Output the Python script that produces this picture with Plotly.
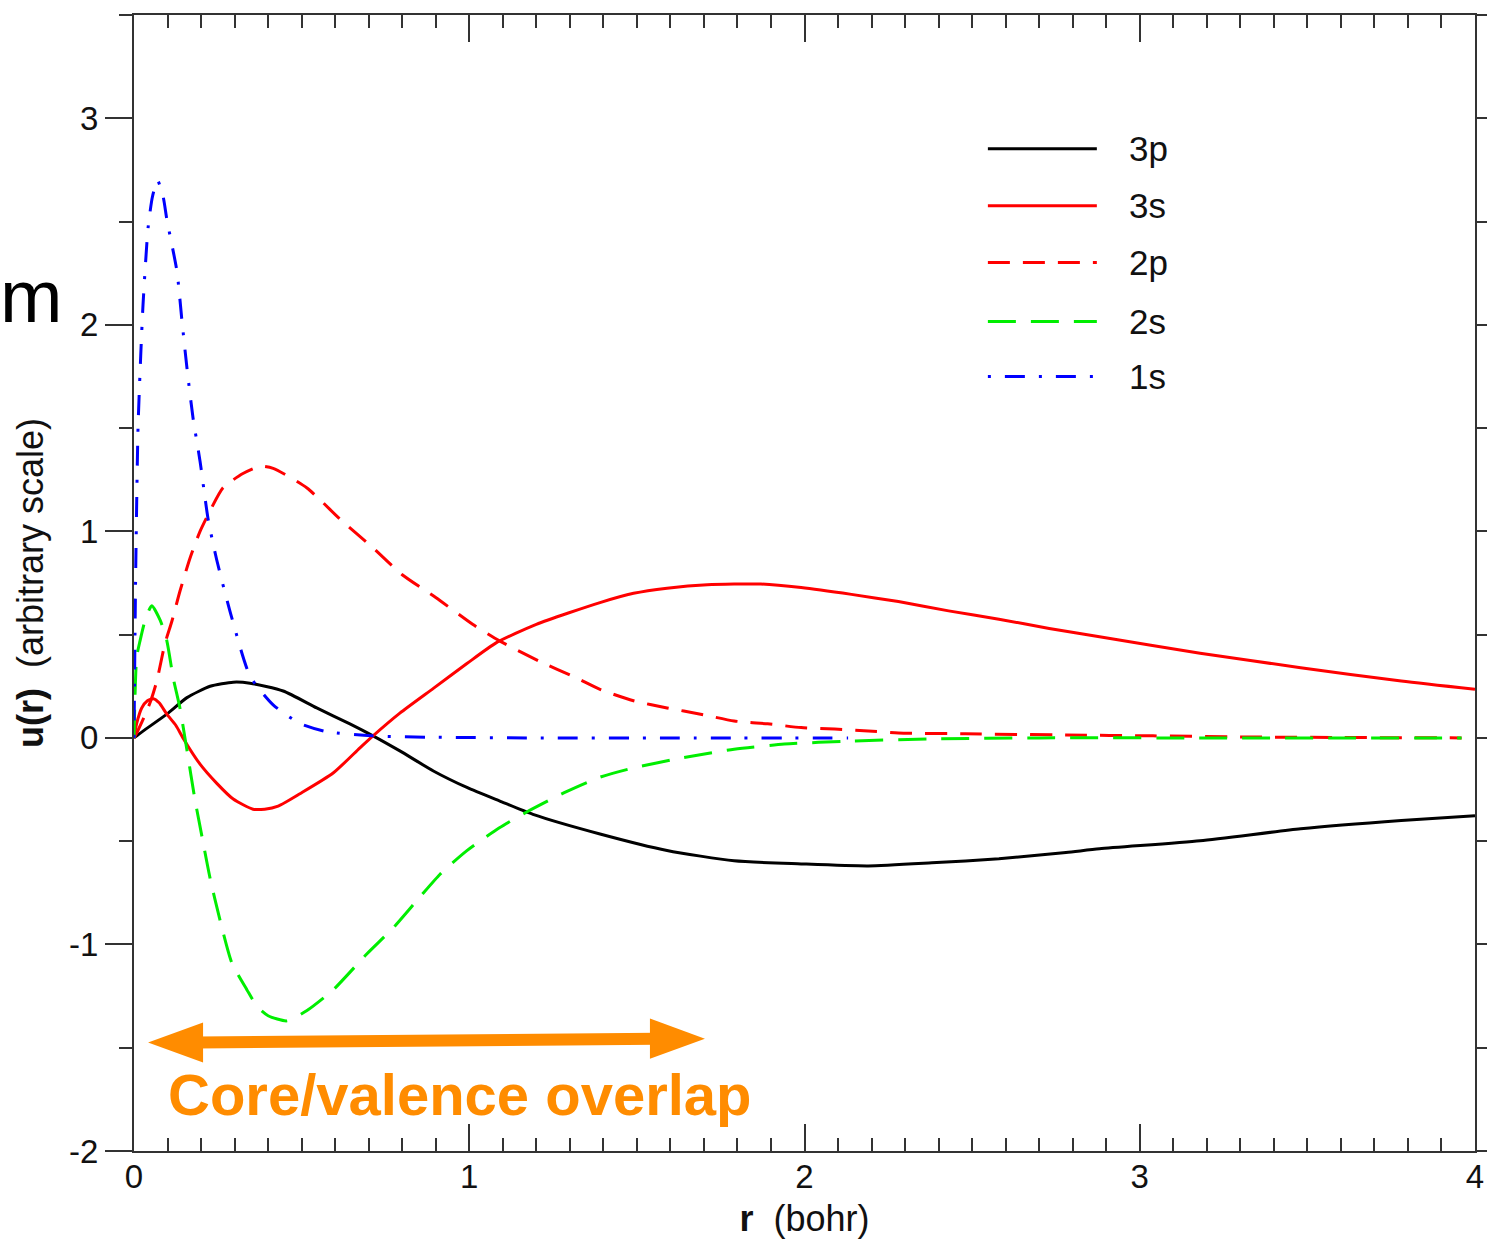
import plotly.graph_objects as go

# ---------------- data ----------------
r_3p = [0, 0.027, 0.098, 0.158, 0.227, 0.296, 0.346, 0.445, 0.545, 0.644, 0.713, 0.793, 0.893, 0.993,
        1.09, 1.19, 1.39, 1.59, 1.79, 1.99, 2.19, 2.38, 2.58, 2.78, 2.88, 3.18, 3.48, 3.78, 4.0]
u_3p = [0, 0.033, 0.115, 0.195, 0.25, 0.27, 0.265, 0.227, 0.145, 0.068, 0.01, -0.063, -0.16, -0.24,
        -0.305, -0.37, -0.465, -0.545, -0.595, -0.61, -0.62, -0.605, -0.585, -0.555, -0.537, -0.498, -0.44, -0.40, -0.377]

r_3s = [0, 0.008, 0.023, 0.04, 0.058, 0.075, 0.098, 0.125, 0.146, 0.197,
        0.247, 0.296, 0.355, 0.39, 0.43, 0.495, 0.594, 0.674, 0.713, 0.793,
        0.893, 0.993, 1.08, 1.2, 1.39, 1.49, 1.59, 1.71, 1.87, 1.99,
        2.14, 2.28, 2.43, 2.58, 2.73, 2.88, 3.18, 3.48, 3.78, 4.0]
u_3s = [0, 0.07, 0.145, 0.18, 0.19, 0.17, 0.115, 0.06, 0.0, -0.127,
        -0.22, -0.296, -0.345, -0.345, -0.33, -0.27, -0.17, -0.048, 0.01, 0.12,
        0.24, 0.36, 0.46, 0.55, 0.655, 0.70, 0.725, 0.742, 0.745, 0.728,
        0.695, 0.66, 0.615, 0.575, 0.53, 0.49, 0.41, 0.34, 0.275, 0.235]

r_2p = [0, 0.01, 0.03, 0.05, 0.068, 0.092, 0.113, 0.137, 0.167, 0.197,
        0.227, 0.265, 0.325, 0.376, 0.415, 0.516, 0.614, 0.713, 0.80, 0.90,
        1.01, 1.09, 1.21, 1.32, 1.39, 1.49, 1.59, 1.69, 1.79, 1.89,
        1.99, 2.09, 2.19, 2.28, 2.48, 2.78, 3.04, 3.3, 3.6, 3.96]
u_2p = [0, 0.03, 0.1, 0.18, 0.275, 0.455, 0.565, 0.71, 0.87, 1.0,
        1.10, 1.21, 1.28, 1.315, 1.305, 1.21, 1.06, 0.92, 0.79, 0.68,
        0.55, 0.47, 0.37, 0.29, 0.235, 0.18, 0.145, 0.115, 0.082, 0.068,
        0.05, 0.043, 0.034, 0.024, 0.02, 0.014, 0.01, 0.005, 0.002, 0.0]

r_2s = [0, 0.008, 0.018, 0.035, 0.053, 0.078, 0.098, 0.117, 0.137, 0.152,
        0.158, 0.182, 0.203, 0.227, 0.257, 0.292, 0.337, 0.367, 0.40, 0.456,
        0.516, 0.594, 0.695, 0.773, 0.853, 0.913, 0.993, 1.09, 1.17, 1.29,
        1.39, 1.49, 1.64, 1.79, 1.94, 2.14, 2.38, 2.7, 3.2, 3.96]
u_2s = [0, 0.39, 0.47, 0.58, 0.64, 0.57, 0.47, 0.29, 0.145, 0.0,
        -0.06, -0.30, -0.48, -0.68, -0.885, -1.09, -1.22, -1.30, -1.345, -1.37,
        -1.32, -1.22, -1.045, -0.92, -0.77, -0.66, -0.546, -0.435, -0.36, -0.26,
        -0.19, -0.145, -0.095, -0.055, -0.03, -0.015, -0.005, 0, 0, 0]

r_1s = [0, 0.005, 0.012, 0.02, 0.027, 0.042, 0.055, 0.07, 0.087, 0.098, 0.128, 0.143, 0.158, 0.176,
        0.197, 0.221, 0.247, 0.292, 0.346, 0.415, 0.495, 0.575, 0.71, 0.9, 1.2, 1.6, 2.13]
u_1s = [0, 0.8, 1.5, 1.85, 2.1, 2.47, 2.62, 2.70, 2.62, 2.51, 2.26, 2.02, 1.79, 1.55,
        1.34, 1.06, 0.86, 0.58, 0.30, 0.16, 0.07, 0.03, 0.01, 0.003, 0, 0, 0]

names = ["3p", "3s", "2p", "2s", "1s"]
x_ticks = [0, 1, 2, 3, 4]
y_ticks = [-2, -1, 0, 1, 2, 3]

# ---------------- styles ----------------
colors = ["#000000", "#ff0000", "#ff0000", "#00ee00", "#0000ff"]
dashes = ["solid", "solid", "22px,13px", "28px,15px", "3px,14px,20px,14px"]
series = [(r_3p, u_3p), (r_3s, u_3s), (r_2p, u_2p), (r_2s, u_2s), (r_1s, u_1s)]

FONT = "Liberation Sans, Arial, Helvetica, sans-serif"
ORANGE = "#ff8c00"

fig = go.Figure()
for (xs, ys), name, c, d in zip(series, names, colors, dashes):
    fig.add_trace(go.Scatter(x=xs, y=ys, mode="lines", name=name, showlegend=False,
                             line=dict(color=c, width=3, dash=d, shape="spline", smoothing=0.6)))

# custom legend (long sample lines like the original)
leg_x0, leg_x1, leg_tx = 2.547, 2.872, 2.962
leg_y = [2.853, 2.577, 2.302, 2.016, 1.75]
for name, c, d, yy in zip(names, colors, dashes, leg_y):
    fig.add_shape(type="line", xref="x", yref="y", x0=leg_x0, x1=leg_x1, y0=yy, y1=yy,
                  line=dict(color=c, width=3, dash=d))
    fig.add_annotation(x=leg_tx, y=yy, xref="x", yref="y", text=name, showarrow=False,
                       xanchor="left", yanchor="middle", font=dict(family=FONT, size=35, color="#111"))

# orange double arrow
ay_l, ay_r = -1.475, -1.456
fig.add_shape(type="line", xref="x", yref="y", x0=0.19, y0=ay_l, x1=1.56, y1=ay_r,
              line=dict(color=ORANGE, width=12))
fig.add_shape(type="path", xref="x", yref="y",
              path=f"M 0.042 {ay_l} L 0.206 {ay_l+0.097} L 0.206 {ay_l-0.097} Z",
              fillcolor=ORANGE, line=dict(color=ORANGE, width=0))
fig.add_shape(type="path", xref="x", yref="y",
              path=f"M 1.703 {ay_r} L 1.539 {ay_r+0.097} L 1.539 {ay_r-0.097} Z",
              fillcolor=ORANGE, line=dict(color=ORANGE, width=0))
fig.add_annotation(x=0.972, y=-1.726, xref="x", yref="y", text="<b>Core/valence overlap</b>",
                   showarrow=False, xanchor="center", yanchor="middle",
                   font=dict(family=FONT, size=58, color=ORANGE))

# stray "m" at the left edge
fig.add_annotation(x=-0.0768, y=0.753, xref="paper", yref="paper", text="m", showarrow=False,
                   xanchor="center", yanchor="middle", font=dict(family=FONT, size=75, color="#000"))

axis_common = dict(showgrid=False, zeroline=False, showline=True, linecolor="#333", linewidth=2,
                   mirror="ticks", tickcolor="#333", tickwidth=1.5, ticklen=27, automargin=False,
                   tickfont=dict(family=FONT, size=33, color="#111"))

fig.update_xaxes(range=[0, 4], tickvals=x_ticks, ticktext=[str(v) for v in x_ticks], ticks="inside",
                 minor=dict(dtick=0.1, ticklen=13, ticks="inside", tickcolor="#333", tickwidth=1.5),
                 ticklabelstandoff=-5,
                 title=dict(text="<b>r</b>  (bohr)", font=dict(family=FONT, size=36, color="#111"), standoff=12),
                 **axis_common)
fig.update_yaxes(range=[-2, 3.5], tickvals=y_ticks, ticktext=[str(v) for v in y_ticks], ticks="outside",
                 minor=dict(dtick=0.5, ticklen=13, ticks="outside", tickcolor="#333", tickwidth=1.5),
                 title=dict(text="<b>u(r)</b>  (arbitrary scale)", font=dict(family=FONT, size=36, color="#111"),
                            standoff=14),
                 **axis_common)

fig.update_layout(width=1487, height=1241, margin=dict(l=134, r=12, t=15, b=90),
                  plot_bgcolor="white", paper_bgcolor="white", showlegend=False)

fig.write_html("out.html")
